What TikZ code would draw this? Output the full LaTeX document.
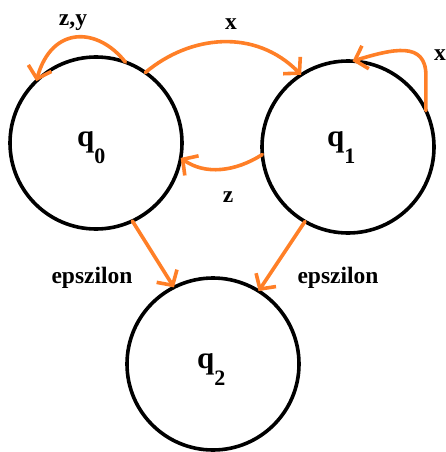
\documentclass[tikz,border=0pt]{standalone}
\usepackage{fontspec}
\setmainfont{Liberation Serif}
\usetikzlibrary{arrows.meta}
\definecolor{paintorange}{RGB}{255,127,39}
\tikzset{
  statecirc/.style={circle,draw=black,line width=3.6pt,minimum size=172pt,inner sep=0pt,outer sep=0pt},
  edgearrow/.style={draw=paintorange,line width=3.6pt,line cap=round,
    -{Straight Barb[length=11pt,width=24pt,line width=3.6pt,line cap=butt]}},
  edgelab/.style={font=\fontsize{23.5}{26}\selectfont\bfseries,inner sep=0pt,anchor=base},
  statelab/.style={inner sep=0pt,anchor=base west},
}
\newcommand{\qlab}[1]{{\fontsize{31}{31}\selectfont\bfseries q}\raisebox{-17pt}{\fontsize{22}{22}\selectfont\bfseries #1}}
\begin{document}
\begin{tikzpicture}[x=1pt,y=-1pt]
\useasboundingbox (0,0) rectangle (446,452);
\node[statecirc] (q0) at (96,143) {};
\node[statecirc] (q1) at (348,147) {};
\node[statecirc] (q2) at (213,364) {};
\node[statelab] (t0) at (77,146.5) {\qlab{0}};
\node[statelab] (t1) at (327,146.5) {\qlab{1}};
\node[statelab] (t2) at (197,368) {\qlab{2}};
% q0 -> q1
\draw[edgearrow] (q0.55) .. controls (190,35) and (255,28) .. (q1.123);
% q0 self loop
\draw[edgearrow] (q0.70) .. controls (98,27) and (52,25) .. (q0.134);
% q1 self loop
\draw[edgearrow] (q1.25) -- ++(0,-35) .. controls +(0,-35) and +(40,-12) .. (q1.87);
% q1 -> q0
\draw[edgearrow] (q1.185) .. controls (235,172) and (205,175) .. (q0.-10);
% epsilon edges
\draw[edgearrow] (q0.-65) -- (q2.117);
\draw[edgearrow] (q1.-120) -- (q2.58);
% labels
\node[edgelab] (lx) at (231,30) {x};
\node[edgelab] (lzy) at (73,26) {z,y};
\node[edgelab] (lx1) at (440,60) {x};
\node[edgelab] (lz) at (228,202) {z};
\node[edgelab] (le0) at (92,283) {epszilon};
\node[edgelab] (le1) at (338,283) {epszilon};
\end{tikzpicture}
\end{document}
